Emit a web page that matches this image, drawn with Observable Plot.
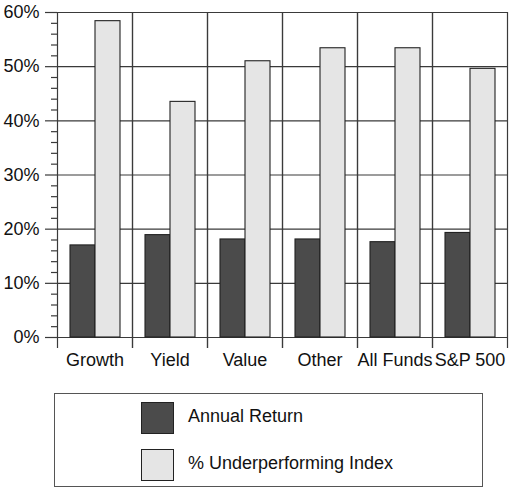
<!DOCTYPE html>
<html>
<head>
<meta charset="utf-8">
<script src="https://cdn.jsdelivr.net/npm/d3@7"></script>
<script src="https://cdn.jsdelivr.net/npm/@observablehq/plot@0.6"></script>
<style>
  html, body { margin: 0; padding: 0; background: #fff; }
  body { width: 512px; height: 489px; position: relative; overflow: hidden; font-family: "Liberation Sans", Arial, sans-serif; }
  #legend { position: absolute; left: 54px; top: 393px; width: 427px; height: 92px; border: 1.5px solid #555; box-sizing: content-box; }
  .sw { position: absolute; left: 86px; width: 31px; height: 30px; border: 1.2px solid #222; }
  .lt { position: absolute; left: 133px; font-size: 18px; color: #111; line-height: 1; white-space: nowrap; }
</style>
</head>
<body>
<div id="chart"></div>
<div id="legend">
  <div class="sw" style="top:8px;background:#4b4b4b"></div>
  <div class="lt" style="top:13px">Annual Return</div>
  <div class="sw" style="top:55px;background:#e5e5e5"></div>
  <div class="lt" style="top:60px">% Underperforming Index</div>
</div>
<script>
const categories = ["Growth", "Yield", "Value", "Other", "All Funds", "S&P 500"];
const seriesNames = ["Annual Return", "% Underperforming Index"];
const annualReturn = [17.0, 18.9, 18.1, 18.1, 17.6, 19.3];
const underperforming = [58.4, 43.5, 51.0, 53.4, 53.4, 49.6];
const yMajorTicks = [0, 10, 20, 30, 40, 50, 60];
const yMinorTicks = [2, 4, 6, 8, 12, 14, 16, 18, 22, 24, 26, 28, 32, 34, 36, 38, 42, 44, 46, 48, 52, 54, 56, 58];

const data = [];
categories.forEach((c, i) => {
  data.push({category: c, series: seriesNames[0], value: annualReturn[i]});
  data.push({category: c, series: seriesNames[1], value: underperforming[i]});
});

const gridColor = "#3a3a3a";

const chart = Plot.plot({
  width: 512,
  height: 385,
  marginLeft: 55,
  marginRight: 3,
  marginTop: 12,
  marginBottom: 48,
  style: {fontFamily: "'Liberation Sans', Arial, sans-serif", fontSize: "18px", color: "#111", background: "#fff"},
  fx: {domain: categories, padding: 0, label: null, axis: null},
  x: {domain: seriesNames, paddingInner: 0, paddingOuter: 0.5, axis: null},
  y: {domain: [0, 60], label: null, axis: null},
  color: {domain: seriesNames, range: ["#4b4b4b", "#e5e5e5"]},
  marks: [
    Plot.ruleY(yMajorTicks, {stroke: gridColor, strokeWidth: 1.2}),
    Plot.frame({anchor: "left", stroke: gridColor, strokeWidth: 1.2, insetBottom: -10}),
    Plot.frame({anchor: "right", stroke: gridColor, strokeWidth: 1.2, insetBottom: -10}),
    Plot.barY(data, {fx: "category", x: "series", y: "value", fill: "series", stroke: "#222", strokeWidth: 1.1}),
    Plot.axisY(yMajorTicks, {tickSize: 12, tickPadding: 6, tickFormat: d => d + "%", fontSize: 18, stroke: gridColor, strokeWidth: 1.2, label: null}),
    Plot.axisY(yMinorTicks, {tickSize: 6, tickFormat: () => "", stroke: gridColor, strokeWidth: 1.2, label: null}),
    Plot.axisFx({anchor: "bottom", tickSize: 0, tickPadding: 16, fontSize: 18, label: null})
  ]
});
document.getElementById("chart").appendChild(chart);
</script>
</body>
</html>
